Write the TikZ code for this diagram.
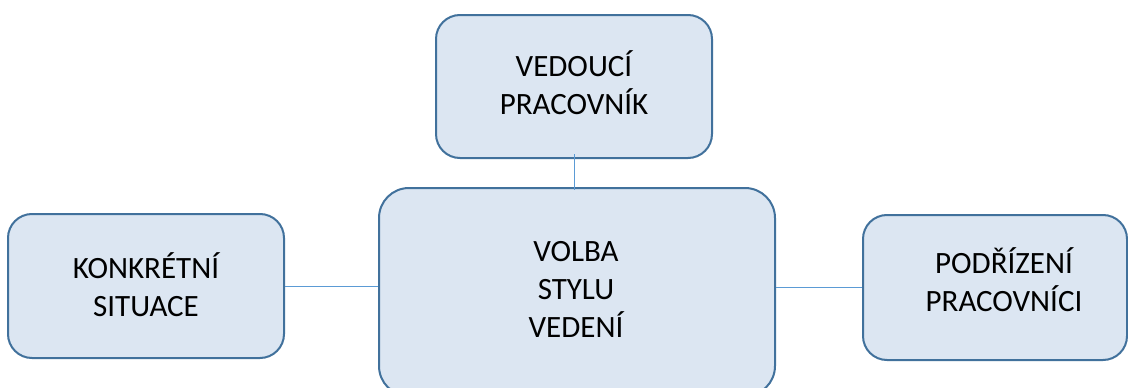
\documentclass[tikz,border=0pt]{standalone}
\usepackage{fontspec}
\setmainfont{Carlito}
\definecolor{boxfill}{HTML}{DCE6F2}
\definecolor{boxdraw}{HTML}{41719C}
\definecolor{linkcol}{HTML}{5B9BD5}
\begin{document}
\begin{tikzpicture}[x=1pt,y=-1pt,
  box/.style={draw=boxdraw,fill=boxfill,line width=2pt,rounded corners=24pt,inner sep=0pt},
  lbl/.style={align=center,font=\fontsize{31}{38}\selectfont,inner sep=0pt},
  link/.style={draw=linkcol,line width=1pt}]
\clip (0,0) rectangle (1128,388);
\fill[white] (0,0) rectangle (1128,388);
\node[box,minimum width=276pt,minimum height=143pt] (top) at (574,86.5) {};
\node[box,minimum width=276pt,minimum height=144pt] (left) at (146,286) {};
\node[box,minimum width=396pt,minimum height=208pt,rounded corners=30pt] (mid) at (577,292) {};
\node[box,minimum width=264pt,minimum height=145pt] (right) at (995,287.5) {};
\node[lbl] (toptext) at (574,83) {VEDOUCÍ\\PRACOVNÍK};
\node[lbl] (lefttext) at (146,284.5) {KONKRÉTNÍ\\SITUACE};
\node[lbl] (midtext) at (576,289) {VOLBA\\STYLU\\VEDENÍ};
\node[lbl] (righttext) at (1004,280) {PODŘÍZENÍ\\PRACOVNÍCI};
\draw[link] ([yshift=5pt]top.south) -- ([yshift=-3pt]top.south |- mid.north);
\draw[link] (left.east) -- (left.east -| mid.west);
\draw[link] (mid.east |- right.west) -- (right.west);
\end{tikzpicture}
\end{document}
